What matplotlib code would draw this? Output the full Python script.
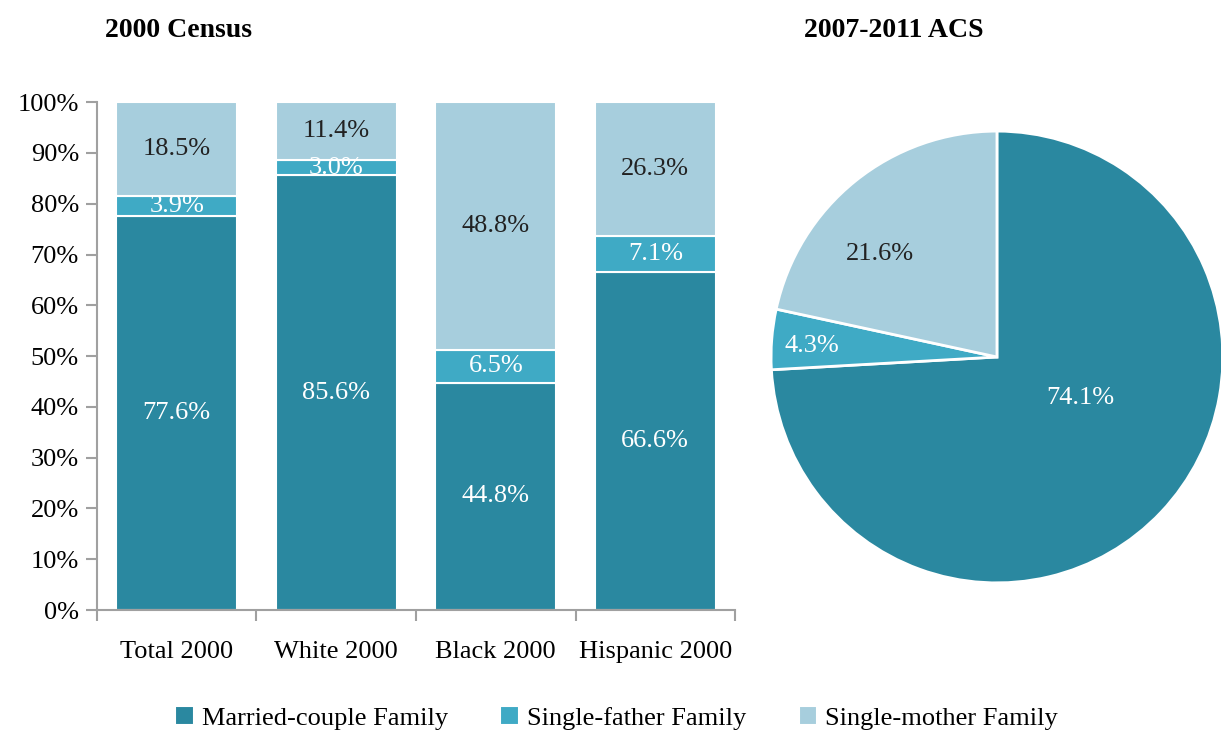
import numpy as np
import matplotlib.pyplot as plt

plt.rcParams['font.family'] = ['Liberation Serif', 'DejaVu Serif']

# Data
groups = ['Total 2000', 'White 2000', 'Black 2000', 'Hispanic 2000']
married = [77.6, 85.6, 44.8, 66.6]
father = [3.9, 3.0, 6.5, 7.1]
mother = [18.5, 11.4, 48.8, 26.3]

pie_labels = ['Married-couple Family', 'Single-father Family', 'Single-mother Family']
pie_values = [74.1, 4.3, 21.6]

colors = ['#2A88A0', '#3FAAC5', '#A7CEDD']
text_colors = ['white', 'white', '#222222']
fs = 19

fig = plt.figure(figsize=(12.21, 7.35), dpi=100)

# Stacked bars
ax = fig.add_axes([0.0794, 0.170, 0.5226, 0.691])
x = np.arange(len(groups))
bottom = np.zeros(len(groups))
for vals, c, tc, lab in zip([married, father, mother], colors, text_colors, pie_labels):
    ax.bar(x, vals, width=0.76, bottom=bottom, color=c, edgecolor='white',
           linewidth=1.5, label=lab)
    for xi, b, v in zip(x, bottom, vals):
        ax.text(xi, b + v / 2, f'{v:.1f}%', ha='center', va='center', color=tc, fontsize=fs)
    bottom += np.array(vals)

ax.set_xlim(-0.5, len(groups) - 0.5)
ax.set_ylim(0, 100)
ax.set_yticks(np.arange(0, 101, 10))
ax.set_yticklabels([f'{v}%' for v in range(0, 101, 10)], fontsize=fs)
ax.set_xticks(x)
ax.set_xticklabels(groups, fontsize=fs)
ax.tick_params(axis='x', length=0, pad=22)
ax.set_xticks(np.arange(-0.5, len(groups)), minor=True)
ax.tick_params(axis='x', which='minor', length=8, color='#A0A0A0', width=1.5)
ax.tick_params(axis='y', length=8, color='#A0A0A0', width=1.5, pad=5)
for s in ['top', 'right']:
    ax.spines[s].set_visible(False)
for s in ['left', 'bottom']:
    ax.spines[s].set_color('#A0A0A0')
    ax.spines[s].set_linewidth(1.5)

fig.text(0.146, 0.958, '2000 Census', ha='center', va='center', fontsize=fs + 1, fontweight='bold')
fig.text(0.732, 0.958, '2007-2011 ACS', ha='center', va='center', fontsize=fs + 1, fontweight='bold')

# Pie
pax = fig.add_axes([0.6315, 0.2068, 0.370, 0.615])
wedges, _ = pax.pie(pie_values, colors=colors, startangle=90, counterclock=False,
                    wedgeprops=dict(edgecolor='white', linewidth=2))
pax.set_xlim(-1, 1)
pax.set_ylim(-1, 1)
pax.set_aspect('equal')
dists = [0.41, 0.82, 0.69]
shifts = [17, 1, 10]
for w, v, tc, d, sh in zip(wedges, pie_values, text_colors, dists, shifts):
    ang = np.deg2rad((w.theta1 + w.theta2) / 2 + sh)
    pax.text(d * np.cos(ang), d * np.sin(ang), f'{v:.1f}%', ha='center', va='center',
             color=tc, fontsize=fs)

handles, labels = ax.get_legend_handles_labels()
fig.legend(handles, labels, loc='center', bbox_to_anchor=(0.505, 0.023), ncol=3,
           frameon=False, fontsize=fs, handlelength=0.7, handleheight=0.7,
           handletextpad=0.3, columnspacing=2.0)

fig.savefig('out.png', dpi=100)
